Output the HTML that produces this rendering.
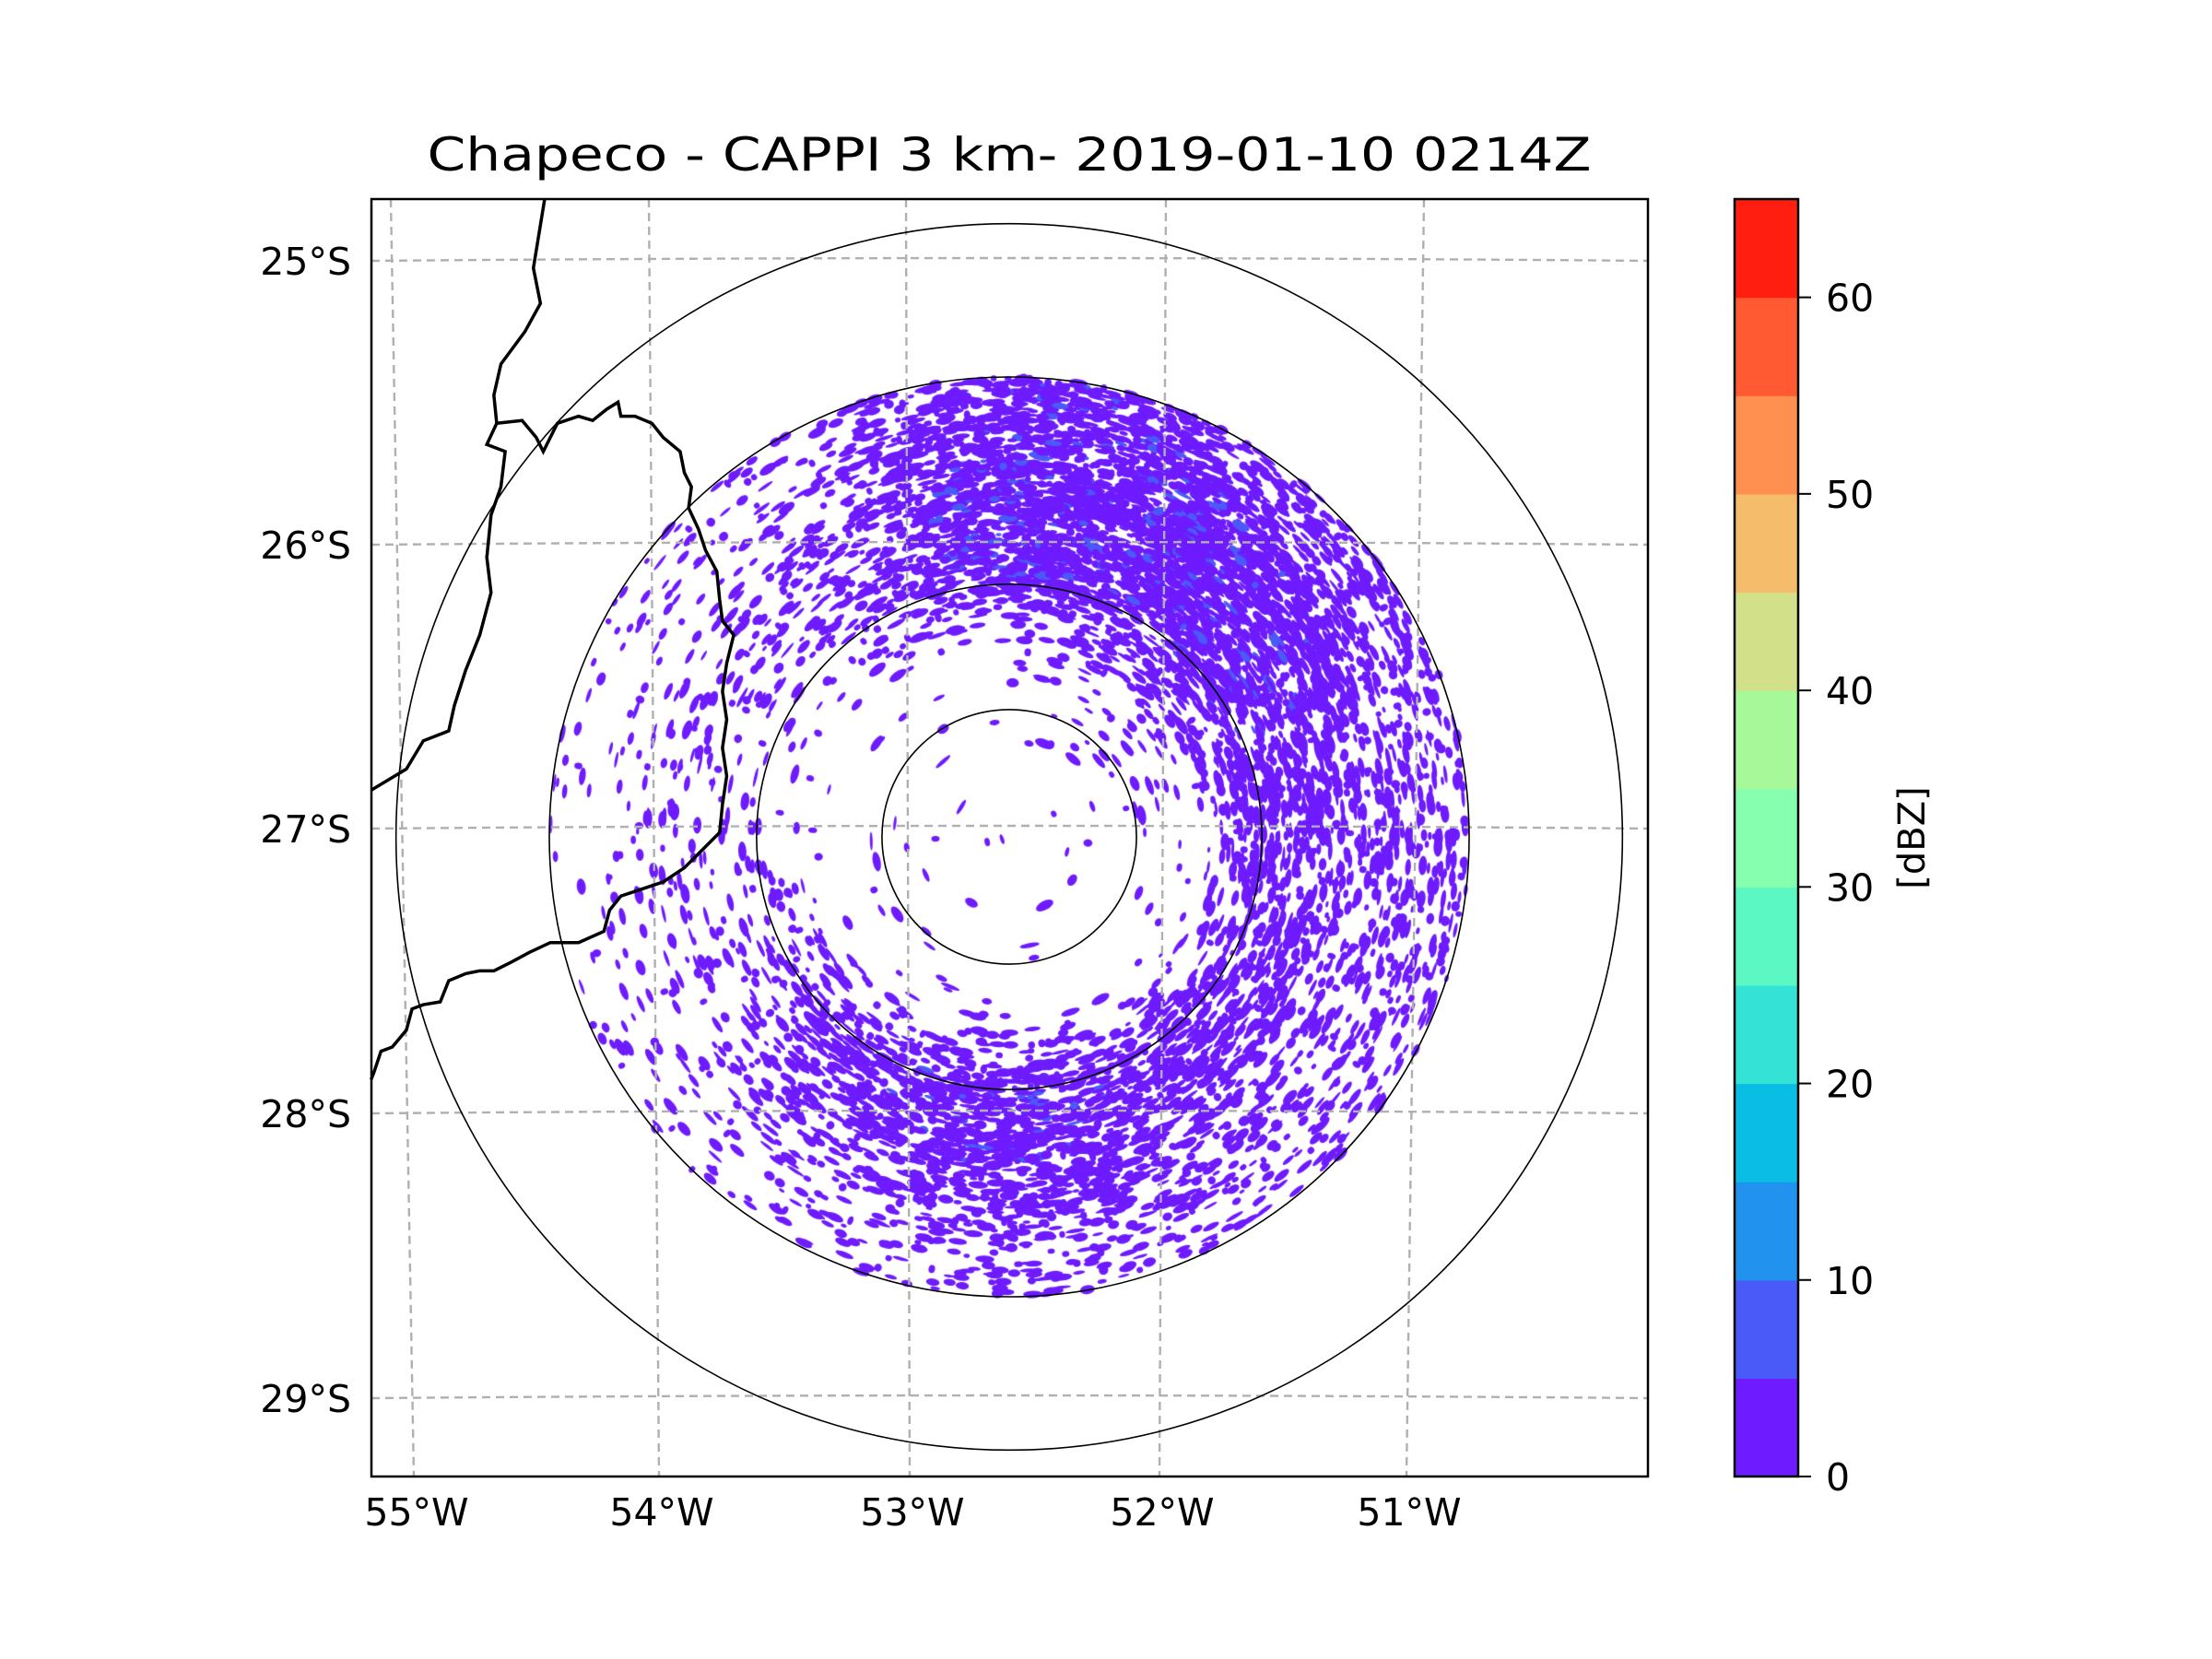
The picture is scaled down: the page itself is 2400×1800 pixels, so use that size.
<!DOCTYPE html>
<html><head><meta charset="utf-8">
<style>
html,body{margin:0;padding:0;background:#fff;}
#wrap{position:relative;width:2400px;height:1800px;overflow:hidden;}
#radar{position:absolute;left:0;top:0;}
#ov{position:absolute;left:0;top:0;}
text{font-family:"DejaVu Sans","Liberation Sans",sans-serif;fill:#000;}
</style></head>
<body>
<div id="wrap">
<canvas id="radar" width="2400" height="1800"></canvas>
<svg id="ov" width="2400" height="1800" xmlns="http://www.w3.org/2000/svg">
  <text x="1095" y="185" font-size="50" text-anchor="middle" textLength="1263" lengthAdjust="spacingAndGlyphs">Chapeco - CAPPI 3 km- 2019-01-10 0214Z</text>
  <g id="grid"></g>
  <g id="rings"></g>
  <g transform="scale(1.531)">
    <path fill="none" stroke="#000" stroke-width="3.5" vector-effect="non-scaling-stroke"
      d="M386,141 L378,190 L383,215 L372,235 L355,258 L350,280 L352,300 L345,315 L358,320 L355,345 L348,365 L345,395 L348,420 L340,450 L330,475 L322,500 L318,518 L300,525 L288,545 L263,560"/>
    <path fill="none" stroke="#000" stroke-width="3.5" vector-effect="non-scaling-stroke"
      d="M352,300 L370,298 L380,310 L385,320 L395,300 L410,295 L420,298 L430,290 L438,285 L440,295 L450,295 L462,300 L470,310 L482,320 L485,335 L490,345 L488,360 L495,375 L500,390 L508,405 L510,425 L512,440 L520,450 L515,470 L512,490 L515,510 L512,530 L515,550 L512,570 L510,590 L500,600 L485,615 L470,625 L455,630 L440,635 L432,645 L428,660 L410,668 L390,668 L375,675 L362,682 L350,688 L340,688 L330,690 L318,695 L312,710 L300,712 L292,715 L288,730 L278,742 L270,745 L265,760 L263,765"/>
  </g>
  <rect x="403" y="216" width="1385" height="1386" fill="none" stroke="#000" stroke-width="2.5"/>
  <g id="lonlab"></g>
  <g id="latlab"></g>
  <g id="cbar"></g>
  <text transform="translate(2088,909) rotate(-90)" font-size="40" text-anchor="middle">[dBZ]</text>
</svg>
</div>
<script>
// ---- data ----
var lonLabels = ["55°W","54°W","53°W","52°W","51°W"];
var latLabels = ["25°S","26°S","27°S","28°S","29°S"];
var cbTicks = [0,10,20,30,40,50,60];
var cbLevels = [0,5,10,15,20,25,30,35,40,45,50,55,60,65];
var cbColors = ["#6e1bff","#4a5af8","#2192ee","#09bde5","#34e3d6","#5cf8c4","#86ffaf","#a6f899","#d2e08a","#f5bd6b","#ff9050","#ff5a32","#ff1e10"];
var ringRadiiKm = [41.5,82.4,150,200];
var sectorAz = [0,30,60,90,120,150,180,210,240,270,300,330];
var radialBinsKm = [21,62,80,92,114,140];
var echoDensity = [
 [0.03,0.12,0.50,0.85,0.85,0.70],
 [0.03,0.30,0.70,0.85,0.85,0.60],
 [0.03,0.35,0.70,0.75,0.65,0.45],
 [0.03,0.12,0.55,0.50,0.42,0.38],
 [0.03,0.12,0.55,0.50,0.40,0.32],
 [0.04,0.12,0.65,0.60,0.45,0.30],
 [0.04,0.12,0.70,0.80,0.65,0.30],
 [0.04,0.12,0.65,0.65,0.45,0.20],
 [0.03,0.10,0.35,0.30,0.25,0.15],
 [0.03,0.10,0.20,0.20,0.20,0.12],
 [0.03,0.10,0.20,0.25,0.25,0.15],
 [0.03,0.10,0.35,0.45,0.40,0.25]
];
// ---- layout / scales ----
var NS="http://www.w3.org/2000/svg";
var box={l:403,t:216,r:1788,b:1602};
var cx=1095, cy=908, pxPerKm=499/150;
var lonTop=[424,704,983,1265,1545], lonBot=[449,715,987,1258,1526];
var latY=[283,591,899,1208,1517];
function mk(tag,attrs,parent){var e=document.createElementNS(NS,tag);for(var k in attrs)e.setAttribute(k,attrs[k]);parent.appendChild(e);return e;}
var grid=document.getElementById('grid');
for(var i=0;i<lonLabels.length;i++){
  var e=mk('line',{x1:lonTop[i],y1:box.t,x2:lonBot[i],y2:box.b,stroke:'#b0b0b0','stroke-width':2.4,'stroke-dasharray':'9,6'},grid);
  
  
}
for(var i=0;i<latLabels.length;i++){
  var y=latY[i];
  var e=mk('path',{d:'M'+box.l+','+y+' Q'+cx+','+(y-6)+' '+box.r+','+y,fill:'none',stroke:'#b0b0b0','stroke-width':2.4,'stroke-dasharray':'9,6'},grid);
  
  
}
var rings=document.getElementById('rings');
ringRadiiKm.forEach(function(km){
  var e=mk('circle',{cx:cx,cy:cy,r:km*pxPerKm,fill:'none',stroke:'#000','stroke-width':1.6},rings);
  
  
});
var lonlab=document.getElementById('lonlab');
for(var i=0;i<lonLabels.length;i++){
  var t=mk('text',{x:lonBot[i]+3,y:1655,'font-size':41,'text-anchor':'middle'},lonlab);
  t.textContent=lonLabels[i];
  
  
}
var latlab=document.getElementById('latlab');
for(var i=0;i<latLabels.length;i++){
  var t=mk('text',{x:381,y:latY[i]+15,'font-size':41,'text-anchor':'end'},latlab);
  t.textContent=latLabels[i];
  
  
}
// colorbar
var cb=document.getElementById('cbar');
var cbx=1882,cbw=69,cbt=216,cbb=1602,vmax=cbLevels[cbLevels.length-1];
function cbY(v){return cbb-(v/vmax)*(cbb-cbt);}
for(var i=0;i<cbColors.length;i++){
  var y1=cbY(cbLevels[i+1]),y0=cbY(cbLevels[i]);
  var r=mk('rect',{x:cbx,y:y1,width:cbw,height:y0-y1+0.6,fill:cbColors[i]},cb);
  
  
}
mk('rect',{x:cbx,y:cbt,width:cbw,height:cbb-cbt,fill:'none',stroke:'#000','stroke-width':2.5},cb);
cbTicks.forEach(function(v){
  var y=cbY(v);
  var l=mk('line',{x1:cbx+cbw,y1:y,x2:cbx+cbw+14,y2:y,stroke:'#000','stroke-width':2},cb);
  
  
  var t=mk('text',{x:1981,y:y+15,'font-size':41},cb);
  t.textContent=String(v);
  
  
});
// radar speckles
var cv=document.getElementById('radar'),ctx=cv.getContext('2d');
var seed=12345;
function rnd(){seed=(seed+0x6D2B79F5)|0;var t=Math.imul(seed^(seed>>>15),1|seed);t=(t+Math.imul(t^(t>>>7),61|t))^t;return((t^(t>>>14))>>>0)/4294967296;}
function density(rKm,az){
  var n=sectorAz.length,s=az/30,i0=Math.floor(s)%n,i1=(i0+1)%n,f=s-Math.floor(s);
  var rb=radialBinsKm;
  function rv(row){
    if(rKm<=rb[0])return row[0];
    for(var j=0;j<rb.length-1;j++){if(rKm<=rb[j+1]){var g=(rKm-rb[j])/(rb[j+1]-rb[j]);return row[j]*(1-g)+row[j+1]*g;}}
    return row[rb.length-1];
  }
  return rv(echoDensity[i0])*(1-f)+rv(echoDensity[i1])*f;
}
var maxKm=150, N=60000;
for(var k=0;k<N;k++){
  var rr=Math.sqrt(rnd())*maxKm, az=rnd()*360;
  var d=density(rr,az);
  if(rnd()>d*d*0.6+d*0.05)continue;
  var a=az*Math.PI/180;
  var x=cx+Math.sin(a)*rr*pxPerKm, y=cy-Math.cos(a)*rr*pxPerKm;
  var rx=3+rnd()*8, ry=1.5+rnd()*3.5;
  ctx.fillStyle=(d>0.65&&rnd()<0.08)?cbColors[1]:cbColors[0];
  ctx.beginPath();
  ctx.ellipse(x,y,rx,ry,a,0,Math.PI*2);
  ctx.fill();
}
</script>
</body></html>
